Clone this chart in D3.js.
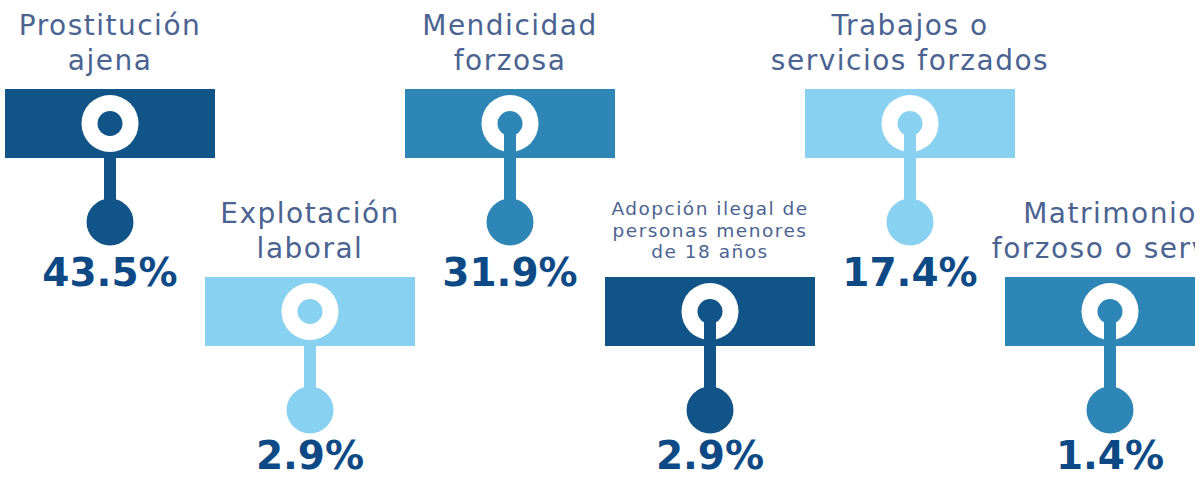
<!DOCTYPE html>
<html><head><meta charset="utf-8">
<script src="https://cdn.jsdelivr.net/npm/d3@7"></script>
<style>body{margin:0;background:#fff;overflow:hidden}</style>
</head><body><svg id="c" width="1203" height="478"></svg>
<script>
const categories = ["Prostitución ajena","Explotación laboral","Mendicidad forzosa","Adopción ilegal de personas menores de 18 años","Trabajos o servicios forzados","Matrimonio forzoso o servil"];
const labelLines = [["Prostitución","ajena"],["Explotación","laboral"],["Mendicidad","forzosa"],["Adopción ilegal de","personas menores","de 18 años"],["Trabajos o","servicios forzados"],["Matrimonio","forzoso o servil"]];
const values = [43.5,2.9,31.9,2.9,17.4,1.4];
const valueLabels = ["43.5%","2.9%","31.9%","2.9%","17.4%","1.4%"];

const svg = d3.select("#c");
svg.append("defs").append("clipPath").attr("id","clip")
  .append("rect").attr("x",0).attr("y",0).attr("width",1195).attr("height",478);
const root = svg.append("g").attr("clip-path","url(#clip)");

const x = d3.scalePoint().domain(categories).range([110,1110]);
const color = d3.scaleOrdinal().domain(categories)
  .range(["#115487","#89d1f1","#2e86b6","#115487","#89d1f1","#2e86b6"]);
const rowTop = d3.scaleOrdinal().domain([0,1]).range([89,277]);

const W = 210, H = 69, ringR = 28.5, dotR = 12.5, ballR = 23.5, stemW = 12;
const ringY = 34.5, ballY = 133, valY = 197;

const items = categories.map((c,i)=>({c, i, v: values[i], lab: valueLabels[i], lines: labelLines[i]}));

const g = root.selectAll("g.item").data(items).join("g")
  .attr("class","item")
  .attr("transform", d => `translate(${x(d.c)},${rowTop(d.i%2)})`);

g.append("rect").attr("x",-W/2).attr("y",0).attr("width",W).attr("height",H)
  .attr("fill", d => color(d.c));
g.append("circle").attr("cx",0).attr("cy",ringY).attr("r",ringR).attr("fill","#fff");
g.append("circle").attr("cx",0).attr("cy",ringY).attr("r",dotR).attr("fill", d => color(d.c));
g.append("rect").attr("x",-stemW/2)
  .attr("y", d => d.i < 2 ? H : ringY)
  .attr("width",stemW)
  .attr("height", d => ballY - (d.i < 2 ? H : ringY))
  .attr("fill", d => color(d.c));
g.append("circle").attr("cx",0).attr("cy",ballY).attr("r",ballR).attr("fill", d => color(d.c));

g.append("text").attr("x",0)
  .attr("y", d => Math.min(valY, 469 - rowTop(d.i%2)))
  .attr("text-anchor","middle")
  .attr("font-family","'DejaVu Sans', sans-serif")
  .attr("font-weight","bold")
  .attr("font-size",39)
  .attr("fill","#0d4a85")
  .text(d => d.lab);

g.each(function(d){
  const small = d.lines.length > 2;
  const fs = small ? 18.5 : 28;
  const lh = small ? 21.5 : 35;
  const n = d.lines.length;
  const t = d3.select(this).append("text")
    .attr("text-anchor","middle")
    .attr("font-family","'DejaVu Sans', sans-serif")
    .attr("font-size",fs)
    .attr("letter-spacing", small ? 1.5 : 1.5)
    .attr("fill","#4b6391");
  d.lines.forEach((ln,k)=>{
    t.append("tspan").attr("x",0).attr("y", -19 - (n-1-k)*lh).text(ln);
  });
});
</script></body></html>
